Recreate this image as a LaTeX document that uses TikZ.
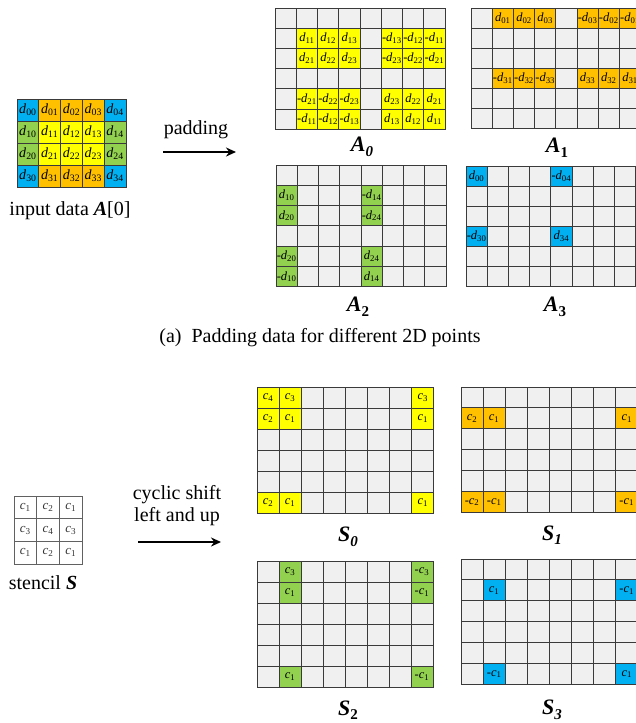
\documentclass[tikz,border=0pt]{standalone}
\usepackage{fontspec}
\setmainfont{Liberation Serif}
\usetikzlibrary{arrows.meta}

\definecolor{cellgray}{HTML}{F0F0F0}
\definecolor{gridline}{HTML}{3A3A3A}
\definecolor{cyel}{HTML}{FFFF00}
\definecolor{corg}{HTML}{FFC000}
\definecolor{cgrn}{HTML}{92D050}
\definecolor{cblu}{HTML}{00B0F0}
\definecolor{ctext}{HTML}{333333}

\tikzset{
  cell/.style={draw=gridline, fill=cellgray, line width=0.9pt, inner sep=0pt, outer sep=0pt},
  celltext/.style={inner sep=0pt, font=\fontsize{12.5}{12.5}\selectfont},
  stenciltext/.style={inner sep=0pt, text=ctext, font=\fontsize{13}{13}\selectfont},
  gridlabel/.style={inner sep=0pt, font=\fontsize{22}{22}\selectfont},
  plain/.style={inner sep=0pt, font=\fontsize{20}{22}\selectfont},
  bigarrow/.style={-{Stealth[length=10pt,width=9pt]}, line width=2.4pt}
}

% d_{ij} and c_k entries
\newcommand\dd[1]{{\itshape d}\textsubscript{#1}}
\newcommand\cc[1]{{\itshape c}\textsubscript{#1}}
% bold italic grid name with lowered index
\newcommand\gname[2]{\textbf{\textit{#1}}\raisebox{-0.45ex}{\fontsize{15}{15}\selectfont\bfseries #2}}

% grid of cells: name, left, top, columns, rows, cell width, cell height
\newcommand\cellgrid[7]{%
  \foreach \r in {1,...,#5}{\foreach \c in {1,...,#4}{%
    \node[cell, minimum width=#6pt, minimum height=#7pt] (#1-\r-\c)
      at ({#2+(\c-0.5)*#6},{#3+(\r-0.5)*#7}) {};}}}

% coloured cell with an entry: grid, row, column, colour, text
\newcommand\paint[5]{%
  \path[draw=gridline, line width=0.9pt, fill=#4]
    (#1-#2-#3.north west) rectangle (#1-#2-#3.south east);
  \node[celltext] (#1-#2-#3-t) at (#1-#2-#3) {#5};}

\begin{document}
\begin{tikzpicture}[x=1pt,y=-1pt]
\useasboundingbox (0,0) rectangle (636,723);
\clip (0,0) rectangle (636,723);

% ---------- input data A[0] ----------
\cellgrid{in}{17}{99}{5}{4}{21.8}{22}
\begin{scope}[celltext/.append style={font=\fontsize{14}{14}\selectfont}]
\foreach \r/\lc/\mc/\rc in {1/cblu/corg/cblu, 2/cgrn/cyel/cgrn, 3/cgrn/cyel/cgrn, 4/cblu/corg/cblu}{%
  \pgfmathtruncatemacro\ri{\r-1}
  \paint{in}{\r}{1}{\lc}{\dd{\ri0}}
  \paint{in}{\r}{2}{\mc}{\dd{\ri1}}
  \paint{in}{\r}{3}{\mc}{\dd{\ri2}}
  \paint{in}{\r}{4}{\mc}{\dd{\ri3}}
  \paint{in}{\r}{5}{\rc}{\dd{\ri4}}
}
\end{scope}
\node[plain] (inlabel) at (70,211) {input data \textbf{\textit{A}}[0]};

\node[plain] (padtext) at (196,130) {padding};
\coordinate (pad1) at (163,152);
\coordinate (pad2) at (236,152);
\draw[bigarrow] (pad1) -- (pad2);

% ---------- A0 ----------
\cellgrid{Az}{275}{8}{8}{6}{21.25}{20.2}
\foreach \c/\t in {2/\dd{11},3/\dd{12},4/\dd{13},6/-\dd{13},7/-\dd{12},8/-\dd{11}}{\paint{Az}{2}{\c}{cyel}{\t}}
\foreach \c/\t in {2/\dd{21},3/\dd{22},4/\dd{23},6/-\dd{23},7/-\dd{22},8/-\dd{21}}{\paint{Az}{3}{\c}{cyel}{\t}}
\foreach \c/\t in {2/-\dd{21},3/-\dd{22},4/-\dd{23},6/\dd{23},7/\dd{22},8/\dd{21}}{\paint{Az}{5}{\c}{cyel}{\t}}
\foreach \c/\t in {2/-\dd{11},3/-\dd{12},4/-\dd{13},6/\dd{13},7/\dd{12},8/\dd{11}}{\paint{Az}{6}{\c}{cyel}{\t}}
\node[gridlabel] (Azlabel) at (362,147) {\gname{A}{\itshape 0}};

% ---------- A1 ----------
\cellgrid{Ao}{471}{8}{8}{6}{21.2}{20.1}
\foreach \c/\t in {2/\dd{01},3/\dd{02},4/\dd{03},6/-\dd{03},7/-\dd{02},8/-\dd{01}}{\paint{Ao}{1}{\c}{corg}{\t}}
\foreach \c/\t in {2/-\dd{31},3/-\dd{32},4/-\dd{33},6/\dd{33},7/\dd{32},8/\dd{31}}{\paint{Ao}{4}{\c}{corg}{\t}}
\node[gridlabel] (Aolabel) at (557,148) {\gname{A}{1}};

% ---------- A2 ----------
\cellgrid{At}{276}{165}{8}{6}{21.25}{20.3}
\foreach \r/\a/\b in {2/\dd{10}/-\dd{14},3/\dd{20}/-\dd{24},5/-\dd{20}/\dd{24},6/-\dd{10}/\dd{14}}{%
  \paint{At}{\r}{1}{cgrn}{\a}
  \paint{At}{\r}{5}{cgrn}{\b}}
\node[gridlabel] (Atlabel) at (358,307) {\gname{A}{2}};

% ---------- A3 ----------
\cellgrid{Ah}{466}{166}{8}{6}{21.2}{20}
\paint{Ah}{1}{1}{cblu}{\dd{00}}
\paint{Ah}{1}{5}{cblu}{-\dd{04}}
\paint{Ah}{4}{1}{cblu}{-\dd{30}}
\paint{Ah}{4}{5}{cblu}{\dd{34}}
\node[gridlabel] (Ahlabel) at (555,307) {\gname{A}{3}};

\node[plain] (capa) at (320,338) {(a)\hspace{0.5em}Padding data for different 2D points};

% ---------- stencil S ----------
\foreach \r/\a/\b/\cx in {1/1/2/1, 2/3/4/3, 3/1/2/1}{%
  \foreach \c/\t in {1/\a, 2/\b, 3/\cx}{%
    \node[draw=gridline!80, fill=white, line width=0.8pt, inner sep=0pt, outer sep=0pt,
          minimum width=22.7pt, minimum height=22.7pt] (st-\r-\c)
      at ({14+(\c-0.5)*22.7},{496+(\r-0.5)*22.7}) {};
    \node[stenciltext] (st-\r-\c-t) at (st-\r-\c) {\cc{\t}};}}
\node[plain] (stlabel) at (43,583) {stencil \textbf{\textit{S}}};

\node[plain, align=center] (shifttext) at (177,506) {cyclic shift\\left and up};
\coordinate (sh1) at (138,542);
\coordinate (sh2) at (221,542);
\draw[bigarrow] (sh1) -- (sh2);

% ---------- S0 ----------
\cellgrid{Sz}{257}{387}{8}{6}{22.1}{21}
\paint{Sz}{1}{1}{cyel}{\cc{4}}
\paint{Sz}{1}{2}{cyel}{\cc{3}}
\paint{Sz}{1}{8}{cyel}{\cc{3}}
\foreach \r in {2,6}{%
  \paint{Sz}{\r}{1}{cyel}{\cc{2}}
  \paint{Sz}{\r}{2}{cyel}{\cc{1}}
  \paint{Sz}{\r}{8}{cyel}{\cc{1}}}
\node[gridlabel] (Szlabel) at (348,537) {\gname{S}{\itshape 0}};

% ---------- S1 ----------
\cellgrid{So}{461}{387}{8}{6}{22.1}{20.9}
\paint{So}{2}{1}{corg}{\cc{2}}
\paint{So}{2}{2}{corg}{\cc{1}}
\paint{So}{2}{8}{corg}{\cc{1}}
\paint{So}{6}{1}{corg}{-\cc{2}}
\paint{So}{6}{2}{corg}{-\cc{1}}
\paint{So}{6}{8}{corg}{-\cc{1}}
\node[gridlabel] (Solabel) at (552,535) {\gname{S}{\itshape 1}};

% ---------- S2 ----------
\cellgrid{St}{257}{561}{8}{6}{22.0}{21}
\paint{St}{1}{2}{cgrn}{\cc{3}}
\paint{St}{1}{8}{cgrn}{-\cc{3}}
\paint{St}{2}{2}{cgrn}{\cc{1}}
\paint{St}{2}{8}{cgrn}{-\cc{1}}
\paint{St}{6}{2}{cgrn}{\cc{1}}
\paint{St}{6}{8}{cgrn}{-\cc{1}}
\node[gridlabel] (Stlabel) at (348,710) {\gname{S}{2}};

% ---------- S3 ----------
\cellgrid{Sh}{461}{559}{8}{6}{22.1}{20.9}
\paint{Sh}{2}{2}{cblu}{\cc{1}}
\paint{Sh}{2}{8}{cblu}{-\cc{1}}
\paint{Sh}{6}{2}{cblu}{-\cc{1}}
\paint{Sh}{6}{8}{cblu}{\cc{1}}
\node[gridlabel] (Shlabel) at (552,710) {\gname{S}{\itshape 3}};
\end{tikzpicture}
\end{document}
